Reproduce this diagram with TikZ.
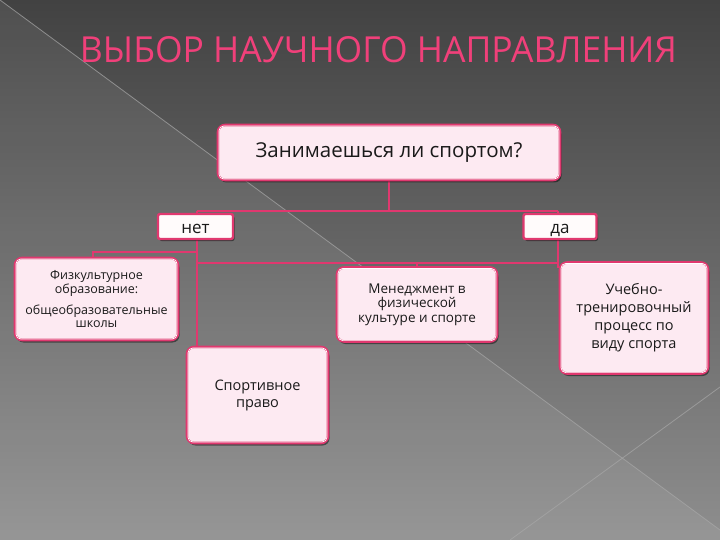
\documentclass[tikz,border=0pt]{standalone}
\usepackage{fontspec}
\setmainfont{Open Sans}
\usetikzlibrary{shadows}
\definecolor{pinkc}{HTML}{E0386F}
\definecolor{titlepink}{HTML}{F0407A}
\definecolor{boxfill}{HTML}{FDEAF2}
\definecolor{bgtop}{HTML}{424242}
\definecolor{bgbot}{HTML}{8E8E8E}
\definecolor{bgline}{HTML}{A8A8A8}
\definecolor{txt}{HTML}{1A1A1A}
\tikzset{
  bgstroke/.style={draw=bgline, line width=0.8pt, opacity=0.7},
  sbox/.style={draw=pinkc, line width=2.6pt, fill=boxfill, rounded corners=7pt,
    inner sep=0pt, align=center, text=txt,
    drop shadow={shadow xshift=1.5pt, shadow yshift=-2.5pt, opacity=0.45, fill=black}},
  lbox/.style={draw=pinkc, line width=2.4pt, fill=white!94!pink, rounded corners=2pt,
    inner sep=0pt, align=center, text=txt, text height=16pt, text depth=2pt,
    drop shadow={shadow xshift=1.5pt, shadow yshift=-2pt, opacity=0.45, fill=black}},
  conn/.style={draw=pinkc, line width=2pt},
  inline/.style={draw=white, line width=0.7pt, rounded corners=5pt}
}
\begin{document}
\begin{tikzpicture}[x=1pt,y=-1pt]
\useasboundingbox (0,0) rectangle (720,540);
% background
\fill[top color=bgtop, bottom color=bgbot] (0,0) rectangle (720,540);
\fill[white, opacity=0.07] (0,0) -- (720,530) -- (720,540) -- (0,540) -- cycle;
\draw[bgstroke] (0,0) -- (720,530);
\draw[bgstroke] (720,387) -- (510,540);
% title
\node[text=titlepink, inner sep=0pt] (title) at (378.5,50)
  {\resizebox{597pt}{26pt}{ВЫБОР НАУЧНОГО НАПРАВЛЕНИЯ}};
% connectors (drawn first, under boxes)
\coordinate (hubtop) at (389,211);
\coordinate (hl) at (197,211);
\coordinate (hr) at (558,211);
\coordinate (fizj) at (197,252);
\coordinate (fizc) at (93,252);
\coordinate (menl) at (197,263);
\coordinate (menr) at (558,263);
\coordinate (menc) at (417,263);
\coordinate (sportc) at (197,348);
\coordinate (uchc) at (558,268);
\draw[conn] (389,180) -- (hubtop);
\draw[conn] (hl) -- (hr);
\draw[conn] (hl) -- (sportc);
\draw[conn] (hr) -- (uchc);
\draw[conn] (fizj) -- (fizc) -- (93,262);
\draw[conn] (menl) -- (menr);
\draw[conn] (menc) -- (417,270);
% boxes
\node[sbox, minimum width=342pt, minimum height=55pt,
  font=\fontsize{20.5}{24}\selectfont] (top) at (389,152.5) {Занимаешься ли спортом?};
\node[lbox, minimum width=75pt, minimum height=25pt,
  font=\fontsize{17}{20}\selectfont] (net) at (195.5,226.5) {нет};
\node[lbox, minimum width=73pt, minimum height=25pt,
  font=\fontsize{17}{20}\selectfont] (da) at (560,226.5) {да};
\node[sbox, minimum width=163pt, minimum height=82pt,
  font=\fontsize{12.5}{12.5}\selectfont] (fiz) at (96.5,299)
  {Физкультурное\\образование:\\[8pt]общеобразовательные\\школы};
\node[sbox, minimum width=160pt, minimum height=74pt,
  font=\fontsize{13.5}{14.5}\selectfont] (men) at (417,304.5)
  {Менеджмент в\\физической\\культуре и спорте};
\node[sbox, minimum width=148pt, minimum height=111pt,
  font=\fontsize{14.5}{18}\selectfont] (uch) at (634,318)
  {Учебно-\\тренировочный\\процесс по\\виду спорта};
\node[sbox, minimum width=141pt, minimum height=96pt,
  font=\fontsize{14.5}{17}\selectfont] (sport) at (257.5,395)
  {Спортивное\\право};
% inner white highlight lines
\foreach \n in {top,fiz,men,uch,sport}{
  \draw[inline] ([xshift=2.2pt,yshift=-2.2pt]\n.north west) rectangle ([xshift=-2.2pt,yshift=2.2pt]\n.south east);
}
\end{tikzpicture}
\end{document}
